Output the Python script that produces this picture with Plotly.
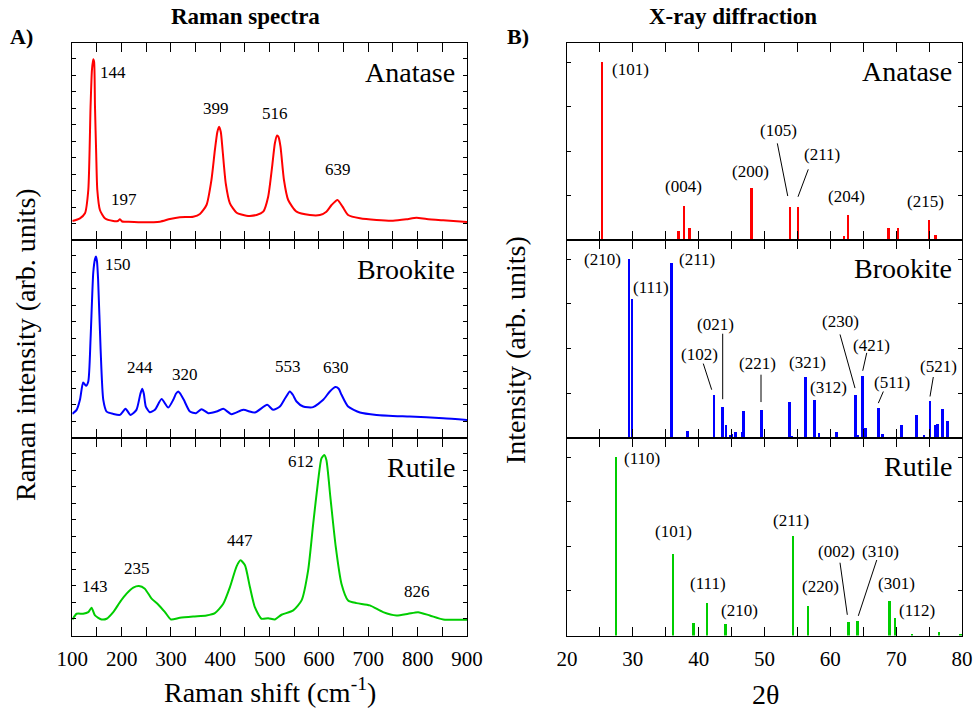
import plotly.graph_objects as go

# ---------------- Raman data (arbitrary units) ----------------
anatase_shift = [100, 115.5, 125.7, 132.4, 137, 139.8, 142.5, 144.2, 146, 148.5, 150.7, 156, 166, 183, 192, 196.6, 201, 210,
                 244, 277.6, 298, 318, 345, 358.7, 372, 382, 389, 394, 397.5, 401, 404.6, 411, 419.5, 433, 453,
                 473.5, 487, 497, 505, 510.6, 515, 518, 522, 529, 537.6, 554.5, 581.5, 601.8, 615, 625.5, 637.6,
                 647.7, 659, 683, 716.6, 750, 777, 797.7, 818, 851.7, 900]
anatase_int = [19, 21.7, 26.7, 50, 133, 170, 180.7, 178, 133, 85, 50, 30, 21.7, 19, 19, 20.7, 18.5, 18.3,
               17.7, 18.3, 21, 22.7, 23.3, 26, 35, 60, 90, 108, 113.3, 108, 90, 56.7, 36.7, 27.3, 24.3,
               25, 28.3, 43.3, 73.3, 96.7, 104.5, 103, 93.3, 60, 40, 28.3, 25, 25, 28.3, 35, 40,
               33.3, 25, 21.7, 20, 19.3, 20.7, 22.3, 21, 19.7, 18]

brookite_shift = [100, 108.8, 115.5, 122, 127.7, 132.4, 137, 142.5, 146, 148, 150, 152.3, 157.4, 162.8, 169.6, 183, 196.6,
                  208, 218, 230, 238, 241.8, 245, 249, 257, 267.5, 281, 294.5, 304.6, 310, 314.8, 319, 326, 338.4,
                  350.6, 362, 375.6, 392.4, 406, 422.8, 446.5, 470, 495, 507, 520.8, 532, 541, 547, 554.5, 568,
                  588, 608.6, 622, 633.6, 640, 645.7, 659, 683, 716.6, 784, 851.7, 900]
brookite_int = [24, 28, 38, 55.3, 52, 56.3, 98, 164.7, 178, 180.7, 176, 158, 88, 38, 26.3, 24, 23,
                29, 23, 28, 44, 49, 44, 31.3, 25.7, 28, 38.7, 30.3, 38, 44, 46.3, 44, 38, 26.3,
                24.7, 28.7, 24.7, 26.3, 29, 23.7, 28, 25.3, 33, 28, 31.3, 40, 46.3, 43, 36.3, 31.3,
                30.7, 38, 46.3, 50.7, 49, 43, 31.3, 25.3, 23, 21.3, 19.7, 18]

rutile_shift = [100, 108.8, 122, 132.4, 139, 146, 159.4, 169.6, 183, 196.6, 210, 223.6, 235, 247, 260.7, 274, 287.8,
                300, 318, 345, 372, 389, 406, 419.5, 433, 441, 450, 460, 470, 483.7, 497, 510.6, 524, 547.8,
                564.7, 578, 588.3, 598.4, 605, 610.6, 615, 623, 634, 645.5, 659, 676, 703, 730, 757, 780.8,
                801, 824.7, 851.7, 900]
rutile_int = [15.7, 21.7, 21.7, 23.3, 27.7, 20, 16, 16.7, 23.3, 33.3, 41.7, 47.7, 49.3, 46.7, 36.7, 31, 23.3,
              16, 17.7, 19, 20, 22.3, 31.7, 48.3, 69, 75, 70, 48.3, 28.3, 16.7, 17.3, 16, 20.7, 25,
              35, 65, 111.7, 155, 176.7, 180, 175, 138.3, 88.3, 51.7, 35, 32.3, 30, 23.3, 20, 21.7,
              23.3, 20, 16, 15.7]

raman_labels_anatase = [("144", 183, 168), ("197", 205, 41), ("399", 391, 132), ("516", 511, 127), ("639", 638, 71)]
raman_labels_brookite = [("150", 193, 173), ("244", 237, 70), ("320", 328, 63), ("553", 538, 71), ("630", 634, 70)]
raman_labels_rutile = [("143", 145, 49), ("235", 232, 67), ("447", 440, 95), ("612", 563, 174), ("826", 799, 44)]

# ---------------- XRD data (2theta, relative intensity %) ----------------
anatase_2t = [25.3, 36.95, 37.8, 38.6, 48.05, 53.9, 55.1, 62.1, 62.7, 68.8, 70.3, 75.0, 76.0]
anatase_I = [100, 5.2, 19.3, 6.6, 29, 18.7, 18.4, 2.2, 14, 6.6, 6.9, 11.2, 2.8]

brookite_2t = [29.4, 29.9, 35.85, 38.3, 42.3, 43.6, 44.15, 44.76, 45.06, 45.57, 46.58, 46.79, 49.52, 53.77, 54.13,
               56.25, 57.57, 58.28, 60.96, 63.8, 64.15, 64.86, 65.32, 67.34, 67.95, 70.79, 73.07, 74.24, 75.14,
               75.9, 76.3, 77.0, 77.78]
brookite_I = [100, 77.5, 97.8, 4.1, 23.8, 17.6, 7.1, 1.7, 2.1, 3.5, 3.2, 15.2, 15.9, 20.4, 0.7,
              34.1, 21, 2.8, 3.5, 23.8, 1.7, 34.4, 5.8, 16.7, 2.1, 7.1, 12.9, 1.5, 20.6,
              7.3, 7.9, 16.1, 9.6]

rutile_2t = [27.45, 36.1, 39.2, 41.25, 44.1, 54.3, 56.6, 62.75, 64.1, 69.0, 69.8, 72.4, 76.5, 79.8]
rutile_I = [100, 45.6, 6.9, 18.1, 6.4, 55.7, 16.4, 7.7, 8.0, 19.4, 9.7, 1.0, 2.0, 1.0]

# labels: (text, x, y) and leader lines (x0, y0, x1, y1)
xrd_labels_anatase = [("(101)", 29.6, 96), ("(004)", 37.7, 30), ("(200)", 47.9, 38.4), ("(105)", 52.1, 61.8),
                      ("(211)", 58.8, 48.1), ("(204)", 62.4, 24.7), ("(215)", 74.5, 21.5)]
xrd_leaders_anatase = [(51.95, 54.3, 53.53, 24.7), (56.65, 39.7, 55.09, 24.3)]

xrd_labels_brookite = [("(210)", 25.4, 100), ("(111)", 32.7, 84.4), ("(211)", 39.7, 100), ("(102)", 40.1, 46.6),
                       ("(021)", 42.6, 63.5), ("(221)", 49.0, 41.6), ("(321)", 56.5, 42.3), ("(312)", 59.7, 28.3),
                       ("(230)", 61.5, 65.3), ("(421)", 66.2, 51.7), ("(511)", 69.4, 31.1), ("(521)", 76.4, 40.1)]
xrd_leaders_brookite = [(40.7, 41.6, 41.98, 27), (43.65, 58.3, 43.65, 21.7), (49.47, 35.4, 49.47, 20.1),
                        (61.47, 57.9, 63.75, 27.9), (65.53, 47.6, 64.92, 37.6), (68.05, 26, 67.29, 19.5),
                        (75.64, 34.1, 75.14, 23.2)]

xrd_labels_rutile = [("(110)", 31.35, 99.1), ("(101)", 36.25, 58.1), ("(111)", 41.46, 29.3), ("(210)", 46.13, 13.8),
                     ("(211)", 54.03, 64.6), ("(220)", 58.43, 27.4), ("(002)", 60.97, 46.9), ("(310)", 67.65, 46.9),
                     ("(301)", 70.08, 29.3), ("(112)", 73.12, 13.8)]
xrd_leaders_rutile = [(61.47, 40.8, 62.58, 11.6), (67.05, 42.3, 64.25, 11.0)]

phases = ["Anatase", "Brookite", "Rutile"]
colors = ["#ff0000", "#0000ff", "rgb(0,205,0)"]

# ---------------- figure ----------------
W, H = 976, 710
FONT = "Liberation Serif, DejaVu Serif, serif"
fig = go.Figure()

def px2x(px):
    return px / W

def py2y(py):
    return 1 - py / H

ydom = [(py2y(240), py2y(43)), (py2y(438), py2y(240)), (py2y(635.5), py2y(438))]
xdom_left = (px2x(72.3), px2x(467))
xdom_right = (px2x(567), px2x(962))

raman = [(anatase_shift, anatase_int), (brookite_shift, brookite_int), (rutile_shift, rutile_int)]
raman_labels = [raman_labels_anatase, raman_labels_brookite, raman_labels_rutile]
xrd = [(anatase_2t, anatase_I), (brookite_2t, brookite_I), (rutile_2t, rutile_I)]
xrd_labels = [xrd_labels_anatase, xrd_labels_brookite, xrd_labels_rutile]
xrd_leaders = [xrd_leaders_anatase, xrd_leaders_brookite, xrd_leaders_rutile]

annotations = []
shapes = []
layout_axes = {}

common_ax = dict(showline=True, linecolor="black", linewidth=1, mirror="ticks", ticks="inside",
                 tickcolor="black", tickwidth=1, showgrid=False, zeroline=False,
                 tickfont=dict(family=FONT, size=21, color="black"))

for i in range(3):
    # Raman panel: axis index i+1
    n = i + 1
    xa = f"x{n}" if n > 1 else "x"
    ya = f"y{n}" if n > 1 else "y"
    sx, sy = raman[i]
    fig.add_trace(go.Scatter(x=sx, y=sy, mode="lines", xaxis=xa, yaxis=ya,
                             line=dict(color=colors[i], width=2, shape="spline", smoothing=0.6),
                             showlegend=False, hoverinfo="skip"))
    layout_axes[f"xaxis{n}" if n > 1 else "xaxis"] = dict(
        common_ax, domain=list(xdom_left), anchor=ya, range=[100, 900],
        tick0=100, dtick=100, ticklen=9,
        minor=dict(tick0=100, dtick=50, ticks="inside", ticklen=9, tickcolor="black", showgrid=False),
        showticklabels=(i == 2), ticklabelstandoff=4)
    layout_axes[f"yaxis{n}" if n > 1 else "yaxis"] = dict(
        common_ax, domain=list(ydom[i]), anchor=xa, range=[0, 197], tick0=0, dtick=16.5,
        ticklen=4, showticklabels=False)
    for txt, lx, ly in raman_labels[i]:
        annotations.append(dict(text=txt, x=lx, y=ly, xref=xa, yref=ya, showarrow=False,
                                font=dict(family=FONT, size=17, color="black")))
    annotations.append(dict(text=phases[i], x=880, y=168, xref=xa, yref=ya, showarrow=False,
                            xanchor="right", font=dict(family=FONT, size=28, color="black")))

    # XRD panel: axis index i+4
    m = i + 4
    xb = f"x{m}"
    yb = f"y{m}"
    tx, ti = xrd[i]
    fig.add_trace(go.Bar(x=tx, y=ti, xaxis=xb, yaxis=yb, width=0.38,
                         marker=dict(color=colors[i], line=dict(width=0)),
                         showlegend=False, hoverinfo="skip"))
    layout_axes[f"xaxis{m}"] = dict(
        common_ax, domain=list(xdom_right), anchor=yb, range=[20, 80],
        tick0=20, dtick=10, ticklen=9,
        minor=dict(tick0=20, dtick=5, ticks="inside", ticklen=9, tickcolor="black", showgrid=False),
        showticklabels=(i == 2), ticklabelstandoff=4)
    layout_axes[f"yaxis{m}"] = dict(
        common_ax, domain=list(ydom[i]), anchor=xb, range=[0, 110.7], tick0=0, dtick=25,
        ticklen=4, showticklabels=False)
    for txt, lx, ly in xrd_labels[i]:
        annotations.append(dict(text=txt, x=lx, y=ly, xref=xb, yref=yb, showarrow=False,
                                font=dict(family=FONT, size=17, color="black")))
    for x0, y0, x1, y1 in xrd_leaders[i]:
        shapes.append(dict(type="line", x0=x0, y0=y0, x1=x1, y1=y1, xref=xb, yref=yb,
                           line=dict(color="black", width=1)))
    annotations.append(dict(text=phases[i], x=78.8, y=94.5, xref=xb, yref=yb, showarrow=False,
                            xanchor="right", font=dict(family=FONT, size=28, color="black")))

# titles and axis labels (paper coordinates)
def pap(text, px, py, size, bold=False, angle=0):
    t = f"<b>{text}</b>" if bold else text
    return dict(text=t, x=px2x(px), y=py2y(py), xref="paper", yref="paper", showarrow=False,
                textangle=angle, xanchor="center", yanchor="middle",
                font=dict(family=FONT, size=size, color="black"))

annotations += [
    pap("Raman spectra", 246, 17, 23, bold=True),
    pap("X-ray diffraction", 733, 17, 23, bold=True),
    pap("A)", 21, 36, 22, bold=True),
    pap("B)", 518, 36, 22, bold=True),
    pap("Raman intensity (arb. units)", 25, 345, 28, angle=-90),
    pap("Intensity (arb. units)", 515, 350, 28, angle=-90),
    pap("Raman shift (cm<sup>-1</sup>)", 270, 690, 28),
    pap("2θ", 765, 694, 28),
]

fig.update_layout(width=W, height=H, margin=dict(l=0, r=0, t=0, b=0, autoexpand=False),
                  paper_bgcolor="white", plot_bgcolor="white", bargap=0,
                  font=dict(family=FONT, color="black"),
                  annotations=annotations, shapes=shapes, **layout_axes)

fig.write_html("out.html", config={"displayModeBar": False},
               post_script="document.body.style.margin='0';document.body.style.padding='0';")
